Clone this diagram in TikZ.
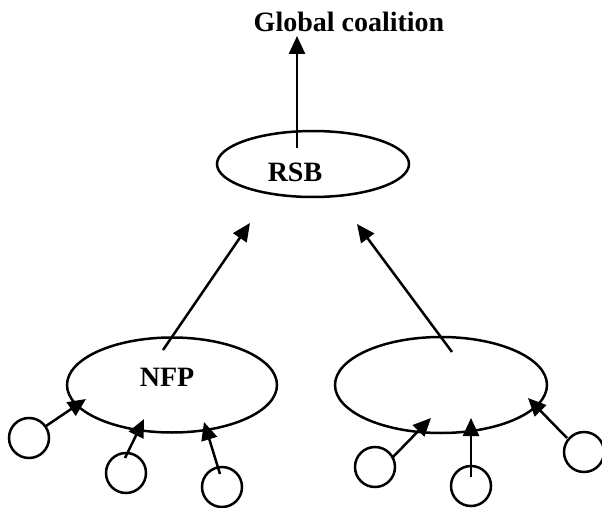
\documentclass[tikz,border=0pt]{standalone}
\usepackage{fontspec}
\setmainfont{Liberation Serif}
\usetikzlibrary{shapes.geometric,arrows.meta}
\begin{document}
\begin{tikzpicture}[x=1pt,y=-1pt,
  line width=2.5pt,
  arr/.style={-{Triangle[length=18pt,width=16pt]}},
  oval/.style={draw,ellipse,inner sep=0pt},
  leaf/.style={draw,circle,minimum size=40pt,inner sep=0pt},
  lbl/.style={font=\fontsize{28}{30}\selectfont\bfseries},
]
\useasboundingbox (0,0) rectangle (602,508);
% labels
\node[font=\fontsize{28}{30}\selectfont\bfseries, anchor=base] (gc) at (349,32) {Global coalition};
% ellipses
\node[oval, minimum width=192pt, minimum height=66pt] (rsb) at (313,164) {};
\node[lbl, anchor=base] (rsbt) at (295,181) {RSB};
\node[oval, minimum width=210pt, minimum height=95pt] (nfp) at (172,385) {};
\node[lbl, anchor=base] (nfpt) at (167,386) {NFP};
\node[oval, minimum width=212pt, minimum height=96pt] (right) at (441,385) {};
% small circles
\node[leaf] (c1) at (29,438) {};
\node[leaf] (c2) at (126,473) {};
\node[leaf] (c3) at (222,487) {};
\node[leaf] (c4) at (375,467) {};
\node[leaf] (c5) at (471,486) {};
\node[leaf] (c6) at (584,452) {};
% connector coordinates
\coordinate (g0) at (297,148);
\coordinate (g1) at (297,36);
\coordinate (a0) at (163,350);
\coordinate (a1) at (250,223);
\coordinate (b0) at (452,352);
\coordinate (b1) at (357,224);
\coordinate (t1) at (86,399);
\coordinate (s1) at (46,426);
\coordinate (t2) at (144,419);
\coordinate (s2) at (125,458);
\coordinate (t3) at (204,422);
\coordinate (s3) at (220,474);
\coordinate (t4) at (431,418);
\coordinate (s4) at (393,457);
\coordinate (t5) at (471,418);
\coordinate (s5) at (471,477);
\coordinate (t6) at (528,398);
\coordinate (s6) at (567,438);
% connectors
\draw[arr] (g0) -- (g1);
\draw[arr] (a0) -- (a1);
\draw[arr] (b0) -- (b1);
\draw[arr] (s1) -- (t1);
\draw[arr] (s2) -- (t2);
\draw[arr] (s3) -- (t3);
\draw[arr] (s4) -- (t4);
\draw[arr] (s5) -- (t5);
\draw[arr] (s6) -- (t6);
\end{tikzpicture}
\end{document}
